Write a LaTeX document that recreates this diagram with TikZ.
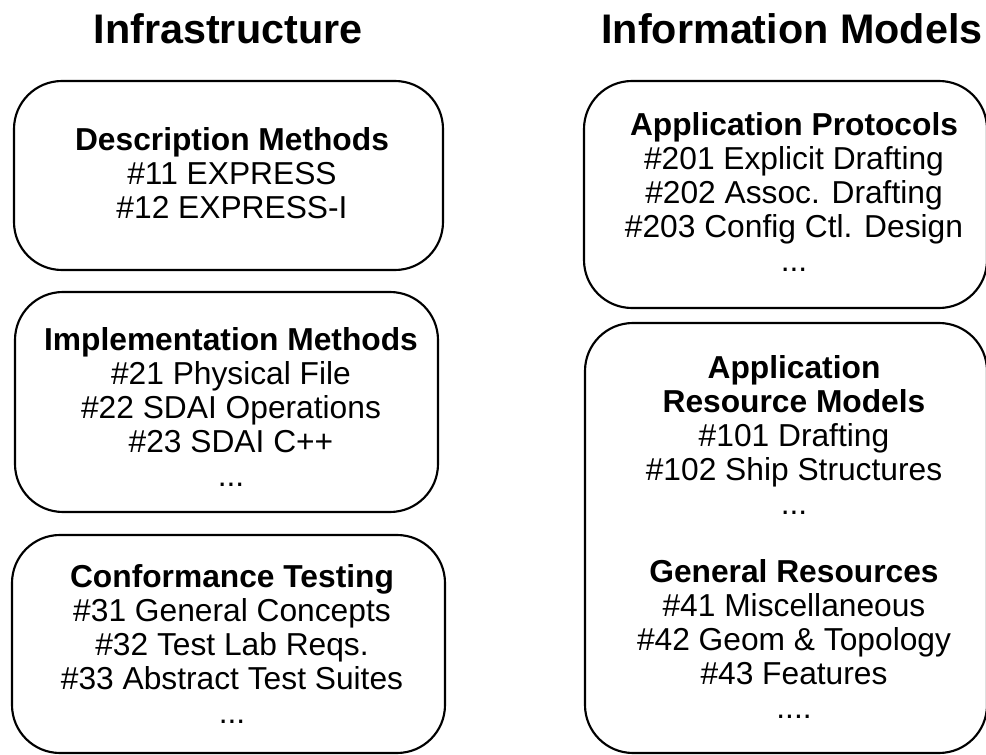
\documentclass[tikz,border=0pt]{standalone}
\usepackage{fontspec}
\setmainfont{Liberation Sans}
\usepackage{tikz}

\tikzset{
  frame/.style={line width=1.6pt, rounded corners=36pt},
  parttext/.style={align=center, inner sep=0pt,
    font=\fontsize{23.8pt}{25.5pt}\selectfont},
  heading/.style={anchor=base, font=\fontsize{31pt}{36pt}\selectfont\bfseries}
}

\begin{document}
\begin{tikzpicture}[x=0.75pt, y=-0.75pt]
    \useasboundingbox (0,0) rectangle (986,755);
    % Column headings
    \node[heading] (infra) at (228,44) {Infrastructure};
    \node[heading] (models) at (792,44) {Information Models};
    % Frames, left column then right column
    \draw[frame] (14,81) rectangle (443,270);
    \draw[frame] (15,292) rectangle (438,512);
    \draw[frame] (12,535) rectangle (445,753);
    \draw[frame] (584,81) rectangle (987,308);
    \draw[frame] (585,323) rectangle (987,753);
    % Infrastructure parts
    \node[parttext] (descr) at (232,173.5)
      {\textbf{Description Methods}\\ \#11 EXPRESS\\ \#12 EXPRESS-I};
    \node[parttext] (impl) at (231,407)
      {\textbf{Implementation Methods}\\ \#21 Physical File\\ \#22 SDAI Operations\\ \#23 SDAI C++\\ ...};
    \node[parttext] (conf) at (232,644)
      {\textbf{Conformance Testing}\\ \#31 General Concepts\\ \#32 Test Lab Reqs.\\ \#33 Abstract Test Suites\\ ...};
    % Information model parts
    \node[parttext] (proto) at (794,192)
      {\textbf{Application Protocols}\\ \#201 Explicit Drafting\\ \#202 Assoc. Drafting\\ \#203 Config Ctl. Design\\ ...};
    \node[parttext] (res) at (794,537)
      {\textbf{Application}\\ \textbf{Resource Models}\\ \#101 Drafting\\ \#102 Ship Structures\\ ...\\[25.5pt]
       \textbf{General Resources}\\ \#41 Miscellaneous\\ \#42 Geom \& Topology\\ \#43 Features\\ ....};
\end{tikzpicture}
\end{document}
